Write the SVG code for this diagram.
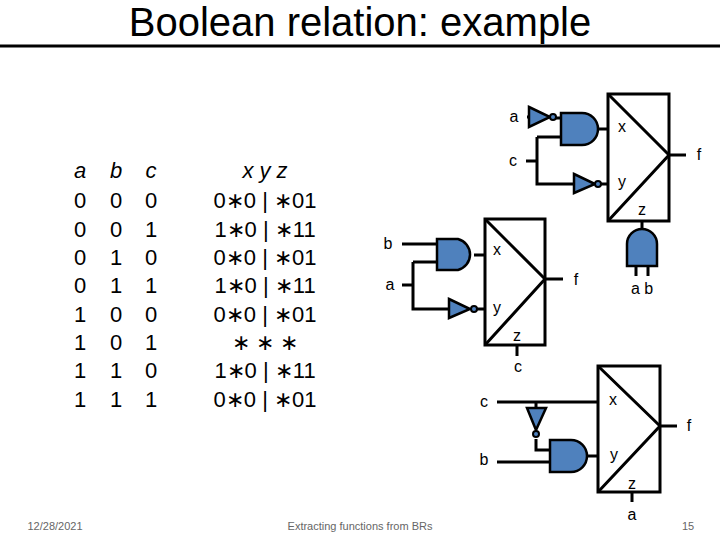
<svg xmlns="http://www.w3.org/2000/svg" width="720" height="540" viewBox="0 0 720 540">
<defs><style>
text{font-family:"Liberation Sans",Arial,sans-serif;fill:#000}
.t{font-size:22px;text-anchor:middle}
.l{font-size:16px;text-anchor:middle}
.f{font-size:11px;fill:#666;text-anchor:middle}
.w{stroke:#000;stroke-width:3;fill:none}
.g{fill:#4f81bd;stroke:#000;stroke-width:2.5}
.b{fill:#fff;stroke:#000;stroke-width:3}
.bub{fill:#4f81bd;stroke:#000;stroke-width:2}
</style></defs>
<rect width="720" height="540" fill="#fff"/>
<g id="title"><text x="360" y="36" style="font-size:40px" text-anchor="middle">Boolean relation: example</text>
<line x1="0" y1="46" x2="720" y2="46" stroke="#000" stroke-width="3"/></g>
<g id="table" class="t">
<text x="80" y="178" font-style="italic">a</text><text x="116" y="178" font-style="italic">b</text><text x="151" y="178" font-style="italic">c</text>
<text x="265" y="178" font-style="italic">x y z</text>
<text x="80" y="208">0</text><text x="116" y="208">0</text><text x="151" y="208">0</text><text x="265" y="208">0∗0 | ∗01</text>
<text x="80" y="237">0</text><text x="116" y="237">0</text><text x="151" y="237">1</text><text x="265" y="237">1∗0 | ∗11</text>
<text x="80" y="265">0</text><text x="116" y="265">1</text><text x="151" y="265">0</text><text x="265" y="265">0∗0 | ∗01</text>
<text x="80" y="293">0</text><text x="116" y="293">1</text><text x="151" y="293">1</text><text x="265" y="293">1∗0 | ∗11</text>
<text x="80" y="322">1</text><text x="116" y="322">0</text><text x="151" y="322">0</text><text x="265" y="322">0∗0 | ∗01</text>
<text x="80" y="350">1</text><text x="116" y="350">0</text><text x="151" y="350">1</text><text x="265" y="350">∗ ∗ ∗</text>
<text x="80" y="378">1</text><text x="116" y="378">1</text><text x="151" y="378">0</text><text x="265" y="378">1∗0 | ∗11</text>
<text x="80" y="407">1</text><text x="116" y="407">1</text><text x="151" y="407">1</text><text x="265" y="407">0∗0 | ∗01</text>
</g>
<g id="connectors" class="w">
<path d="M527 117H531M553 118H561M537 137H561M526 161H537M537 137V184H574M601 184H608M598 129H608M669 155H686M642 221V229M636 266V276M648 266V276"/>
<path d="M402 244H437M402 285H413M413 262H437M413 262V309H449M477 309H485M474 255H485M545 279H563M517 345V356"/>
<path d="M497 402H598M536 402V408M536 439V450H550M497 462H550M587 456H598M660 426H677M632 492V502"/>
</g>
<g id="box1"><rect class="b" x="608" y="94" width="61" height="127"/><path class="w" d="M608 94L669 155L608 221"/>
<text class="l" x="622" y="132">x</text><text class="l" x="622" y="187">y</text><text class="l" x="642" y="215">z</text><text class="l" x="699" y="160">f</text></g>
<g id="box2"><rect class="b" x="485" y="219" width="60" height="126"/><path class="w" d="M485 219L545 279L485 345"/>
<text class="l" x="497" y="255">x</text><text class="l" x="497" y="313">y</text><text class="l" x="517" y="341">z</text><text class="l" x="576" y="285">f</text></g>
<g id="box3"><rect class="b" x="598" y="366" width="62" height="126"/><path class="w" d="M598 366L660 426L598 492"/>
<text class="l" x="613" y="405">x</text><text class="l" x="614" y="460">y</text><text class="l" x="632" y="489">z</text><text class="l" x="689" y="431">f</text></g>
<g id="gates1"><path class="g" d="M561 113H582A16 16 0 0 1 582 145H561Z"/>
<path class="g" d="M529 107L550 117L529 127Z"/><circle class="bub" cx="553" cy="117" r="3"/>
<path class="g" d="M574 174L595 184L574 193Z"/><circle class="bub" cx="598" cy="184" r="3"/>
<path class="g" d="M627 266V244A15 15 0 0 1 657 244V266Z"/>
<text class="l" x="514" y="122">a</text><text class="l" x="513" y="166">c</text><text class="l" x="642" y="294">a b</text></g>
<g id="gates2"><path class="g" d="M437 239H458A16 16 0 0 1 458 270H437Z"/>
<path class="g" d="M449 299L470 309L449 318Z"/><circle class="bub" cx="474" cy="309" r="3"/>
<text class="l" x="388" y="249">b</text><text class="l" x="390" y="290">a</text><text class="l" x="518" y="372">c</text></g>
<g id="gates3"><path class="g" d="M550 440H571A16 16 0 0 1 571 472H550Z"/>
<path class="g" d="M527 408L546 408L536 430Z"/><circle class="bub" cx="536" cy="434" r="3"/>
<text class="l" x="484" y="407">c</text><text class="l" x="484" y="465">b</text><text class="l" x="632" y="520">a</text></g>
<g id="footer"><text class="f" x="55" y="530">12/28/2021</text><text class="f" x="360" y="530">Extracting functions from BRs</text><text class="f" x="688" y="530">15</text></g>
</svg>
